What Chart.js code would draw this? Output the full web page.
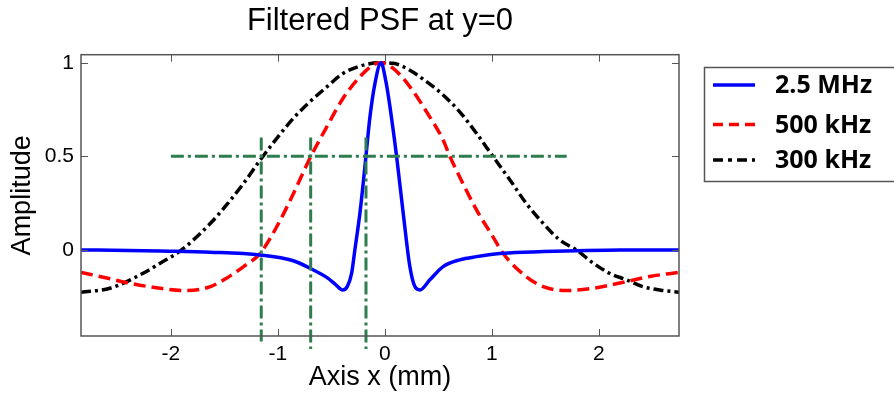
<!DOCTYPE html>
<html>
<head>
<meta charset="utf-8">
<script src="https://cdn.jsdelivr.net/npm/chart.js@4/dist/chart.umd.min.js"></script>
<style>
  html, body { margin: 0; padding: 0; background: #fff; }
  #wrap { width: 894px; height: 398px; }
</style>
</head>
<body>
<div id="wrap"><canvas id="psf" width="894" height="398"></canvas></div>
<script>
// axis ticks
const xTicks = [-2, -1, 0, 1, 2];
const yTicks = [0, 0.5, 1];

// 2.5 MHz (blue, solid)
const x25 = [-2.84, -2.4, -2.1, -1.63, -1.165, -0.855, -0.70, -0.54, -0.46, -0.394, -0.35, -0.31, -0.28, -0.232, -0.186, -0.139, -0.092, -0.036, 0.01, 0.048, 0.11, 0.172, 0.234, 0.281, 0.328, 0.421, 0.545, 0.70, 0.857, 1.105, 1.48, 1.8, 2.2, 2.75];
const y25 = [0, -0.003, -0.006, -0.012, -0.027, -0.058, -0.098, -0.148, -0.185, -0.214, -0.195, -0.124, 0.0, 0.2, 0.445, 0.71, 0.89, 1.0, 0.9, 0.765, 0.5, 0.196, -0.089, -0.196, -0.214, -0.16, -0.089, -0.053, -0.036, -0.018, -0.009, -0.004, 0, 0];

// 500 kHz (red, dashed)
const x500 = [-2.84, -2.6, -2.41, -2.1, -1.85, -1.63, -1.48, -1.32, -1.165, -1.01, -0.855, -0.70, -0.54, -0.39, -0.233, -0.108, -0.04, 0.078, 0.234, 0.39, 0.545, 0.608, 0.70, 0.857, 1.01, 1.105, 1.32, 1.48, 1.70, 1.95, 2.26, 2.475, 2.75];
const y500 = [-0.12, -0.15, -0.175, -0.205, -0.217, -0.196, -0.151, -0.089, -0.018, 0.124, 0.30, 0.49, 0.66, 0.81, 0.925, 0.988, 1.0, 0.97, 0.872, 0.738, 0.587, 0.50, 0.39, 0.214, 0.071, -0.018, -0.142, -0.196, -0.217, -0.205, -0.169, -0.142, -0.12];

// 300 kHz (black, dash-dot)
const x300 = [-2.84, -2.57, -2.26, -2.1, -1.90, -1.63, -1.48, -1.32, -1.165, -1.01, -0.855, -0.70, -0.54, -0.39, -0.233, -0.05, 0.078, 0.234, 0.39, 0.545, 0.70, 0.857, 1.01, 1.17, 1.32, 1.48, 1.635, 1.79, 1.95, 2.10, 2.26, 2.41, 2.58, 2.75];
const y300 = [-0.226, -0.205, -0.125, -0.071, 0, 0.142, 0.24, 0.356, 0.48, 0.596, 0.703, 0.792, 0.872, 0.943, 0.982, 1.0, 0.997, 0.96, 0.899, 0.828, 0.738, 0.623, 0.50, 0.374, 0.25, 0.142, 0.053, 0, -0.071, -0.125, -0.16, -0.196, -0.215, -0.226];

// green half-max markers
const halfLevel = 0.5;
const halfSpan = [-2.0, 1.7];
const halfX = [-1.155, -0.693, -0.176];
const markTop = [0.60, 0.60, 0.60];
const markBottom = [-0.49, -0.53, -0.53];

const GREEN = '#2e7d4f';
const TICK = 7;

const pts = (xs, ys) => xs.map((x, i) => ({ x, y: ys[i] }));

const greenSets = [
    { data: [{ x: halfSpan[0], y: halfLevel }, { x: halfSpan[1], y: halfLevel }] },
    ...halfX.map((x, i) => ({ data: [{ x, y: markTop[i] }, { x, y: markBottom[i] }] }))
].map(d => ({
    label: '',
    data: d.data,
    borderColor: GREEN,
    borderWidth: 3,
    borderDash: [13, 4, 3, 4],
    pointRadius: 0,
    clip: false
}));

// matlab-like box, inner ticks and framed legend
const framePlugin = {
    id: 'frame',
    afterDraw(chart) {
        const { ctx, chartArea: a, scales } = chart;
        ctx.save();
        ctx.strokeStyle = '#555';
        ctx.lineWidth = 1.5;
        ctx.setLineDash([]);
        ctx.strokeRect(a.left, a.top, a.right - a.left, a.bottom - a.top);
        ctx.lineWidth = 1;
        ctx.beginPath();
        xTicks.forEach(v => {
            const px = Math.round(scales.x.getPixelForValue(v)) + 0.5;
            ctx.moveTo(px, a.bottom); ctx.lineTo(px, a.bottom - TICK);
            ctx.moveTo(px, a.top); ctx.lineTo(px, a.top + TICK);
        });
        yTicks.forEach(v => {
            const py = Math.round(scales.y.getPixelForValue(v)) + 0.5;
            ctx.moveTo(a.left, py); ctx.lineTo(a.left + TICK, py);
            ctx.moveTo(a.right, py); ctx.lineTo(a.right - TICK, py);
        });
        ctx.stroke();

        // legend
        const box = { left: 704.5, top: 67.5, bottom: 181.5 };
        const rows = [85, 124.5, 160];
        ctx.lineWidth = 1.5;
        ctx.strokeStyle = '#555';
        ctx.strokeRect(box.left, box.top, 894 - box.left + 5, box.bottom - box.top);
        ctx.font = 'bold 25px "Open Sans"';
        ctx.fillStyle = '#000';
        ctx.textBaseline = 'middle';
        ctx.textAlign = 'left';
        chart.data.datasets.filter(ds => ds.label).forEach((ds, i) => {
            const y = rows[i];
            ctx.strokeStyle = ds.borderColor;
            ctx.lineWidth = ds.borderWidth;
            ctx.setLineDash(ds.legendDash || []);
            ctx.beginPath();
            ctx.moveTo(713, y);
            ctx.lineTo(755, y);
            ctx.stroke();
            ctx.fillText(ds.label, 775, y + 1);
        });
        ctx.restore();
    }
};

new Chart(document.getElementById('psf'), {
    type: 'line',
    data: {
        datasets: [
            ...greenSets,
            {
                label: '2.5 MHz',
                data: pts(x25, y25),
                borderColor: '#0000ff',
                borderWidth: 3.5,
                pointRadius: 0,
                cubicInterpolationMode: 'monotone'
            },
            {
                label: '500 kHz',
                data: pts(x500, y500),
                borderColor: '#ff0000',
                borderWidth: 3.5,
                borderDash: [12, 6],
                legendDash: [10, 6],
                pointRadius: 0,
                cubicInterpolationMode: 'monotone'
            },
            {
                label: '300 kHz',
                data: pts(x300, y300),
                borderColor: '#000000',
                borderWidth: 3.5,
                borderDash: [10, 4, 3, 4],
                legendDash: [10, 5, 4, 5],
                pointRadius: 0,
                cubicInterpolationMode: 'monotone'
            }
        ]
    },
    options: {
        responsive: false,
        animation: false,
        events: [],
        layout: { padding: { left: 0, top: 0, right: 215, bottom: 0 } },
        plugins: {
            legend: { display: false },
            tooltip: { enabled: false },
            title: {
                display: true,
                text: 'Filtered PSF at y=0',
                fullSize: false,
                color: '#000',
                font: { family: '"Liberation Sans", Arial', size: 31, weight: 'normal', lineHeight: 1 },
                padding: { top: 5.5, bottom: 18.2 }
            }
        },
        scales: {
            x: {
                type: 'linear',
                min: -2.84,
                max: 2.75,
                afterFit: s => { s.height = 62; },
                afterBuildTicks: s => { s.ticks = xTicks.map(value => ({ value })); },
                grid: { display: false, drawTicks: false },
                border: { display: false },
                ticks: {
                    color: '#000',
                    padding: 6,
                    maxRotation: 0,
                    font: { family: '"Liberation Sans", Arial', size: 21 }
                },
                title: {
                    display: true,
                    text: 'Axis x (mm)',
                    color: '#000',
                    font: { family: '"Liberation Sans", Arial', size: 27, lineHeight: 1 },
                    padding: { top: 0, bottom: 7 }
                }
            },
            y: {
                type: 'linear',
                min: -0.46,
                max: 1.043,
                afterFit: s => { s.width = 81; },
                afterBuildTicks: s => { s.ticks = yTicks.map(value => ({ value })); },
                grid: { display: false, drawTicks: false },
                border: { display: false },
                ticks: {
                    color: '#000',
                    padding: 7,
                    callback: v => String(v),
                    font: { family: '"Liberation Sans", Arial', size: 21 }
                },
                title: {
                    display: true,
                    text: 'Amplitude',
                    color: '#000',
                    font: { family: '"Liberation Sans", Arial', size: 27, lineHeight: 1 },
                    padding: { top: 9, bottom: 0 }
                }
            }
        }
    },
    plugins: [framePlugin]
});
</script>
</body>
</html>
